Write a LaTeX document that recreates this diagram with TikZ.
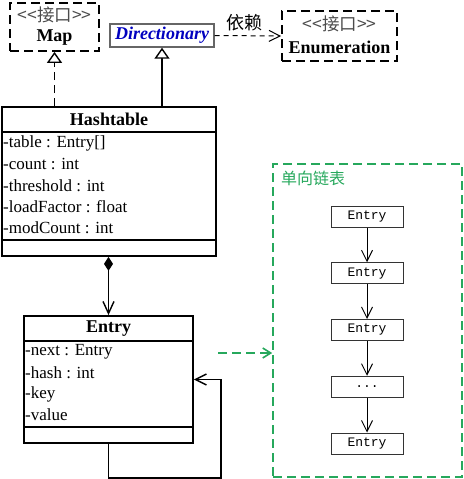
\documentclass[tikz,border=0pt]{standalone}
\usepackage{fontspec}
\setmainfont{Liberation Serif}
\setmonofont{Liberation Mono}
\newfontfamily\cjk{Noto Sans CJK SC}
\usetikzlibrary{arrows.meta,positioning}
\definecolor{gnx}{RGB}{38,168,92}
\colorlet{blx}{blue!75!black}
\colorlet{gax}{black!60}
\newcommand\chaindots{...}
\tikzset{
    klass/.style={draw,line width=1.8pt,inner sep=0pt},
    iface/.style={draw,line width=1.8pt,dash pattern=on 9pt off 5pt,inner sep=0pt},
    sep/.style={line width=1.8pt},
    attr/.style={anchor=west,inner sep=0pt,font=\fontsize{17}{17}\selectfont},
    ttl/.style={inner sep=0pt,font=\fontsize{18}{18}\selectfont\bfseries},
    stereo/.style={inner sep=0pt,text=black!70,font=\fontsize{17.5}{17.5}\selectfont\cjk},
    link/.style={draw=black!80,line width=1pt,minimum width=72pt,minimum height=21pt,inner sep=0pt,font=\fontsize{13}{13}\selectfont\ttfamily},
    inh/.style={line width=1.4pt,-{Triangle[open,length=11pt,width=15pt,fill=white]}},
    barb/.style={-{Straight Barb[length=11pt,width=11pt]}}
}

\begin{document}
\begin{tikzpicture}[x=1pt,y=-1pt]
    \useasboundingbox (0,0) rectangle (463,479);
    % interfaces and parent class
    \node [iface,minimum width=89pt,minimum height=48pt] (map) at (54.5,27) {};
    \node [stereo] (map-s) at (54.5,15) {<<接口>>};
    \node [ttl] (map-t) at (54.5,38) {Map};
    \node [draw=gax,line width=1.4pt,minimum width=104pt,minimum height=23pt,inner sep=0pt,
        text=blx,font=\fontsize{18}{18}\selectfont\bfseries\itshape] (dir) at (162,35.5) {Directionary};
    \node [iface,minimum width=115pt,minimum height=50pt] (enum) at (339.5,36) {};
    \node [stereo] (enum-s) at (339.5,24) {<<接口>>};
    \node [ttl] (enum-t) at (339.5,47) {Enumeration};
    \draw [barb,line width=1pt,dash pattern=on 5pt off 4pt] (dir.east)
        -- node [above=4pt,inner sep=0pt,xshift=-3pt,font=\fontsize{18}{18}\selectfont\cjk] (dep) {依赖} (enum.west);
    % Hashtable
    \node [klass,minimum width=214pt,minimum height=149pt] (ht) at (109,181.5) {};
    \node [ttl] (ht-t) at (109,119.5) {Hashtable};
    \draw [sep] (ht.west |- 0,132) -- (ht.east |- 0,132);
    \draw [sep] (ht.west |- 0,240) -- (ht.east |- 0,240);
    \foreach \t [count=\i] in {-table : Entry[],-count : int,-threshold : int,-loadFactor : float,-modCount : int} {
        \node [attr] (ht-a\i) at (3,{122+21.2*\i}) {\t};
    }
    \draw [inh,dash pattern=on 8pt off 5pt] (ht.north -| map) -- (map.south);
    \draw [inh] (ht.north -| dir) -- (dir.south);
    % Entry
    \node [klass,minimum width=169pt,minimum height=127pt] (entry) at (108.5,379.5) {};
    \node [ttl] (entry-t) at (108.5,328.5) {Entry};
    \draw [sep] (entry.west |- 0,341) -- (entry.east |- 0,341);
    \draw [sep] (entry.west |- 0,427) -- (entry.east |- 0,427);
    \foreach \t [count=\i] in {-next : Entry,-hash : int,-key,-value} {
        \node [attr] (entry-a\i) at (25,{331+21*\i}) {\t};
    }
    \draw [line width=1.4pt,{Diamond[length=14pt,width=9pt]}-{Straight Barb[length=12pt,width=11pt]}]
        (ht.south -| entry) -- (entry.north);
    \coordinate (loop) at (221,478);
    \draw [barb,line width=1.4pt] (entry.south) |- (loop) |- (entry.east);
    % linked list
    \node [draw=gnx,line width=1.6pt,dash pattern=on 9pt off 5pt,minimum width=189pt,minimum height=313pt] (chain) at (367.5,320.5) {};
    \node [anchor=west,inner sep=0pt,text=gnx,font=\fontsize{16}{16}\selectfont\cjk] (chain-l) at (281,178) {单向链表};
    \coordinate (gs) at (218,353);
    \draw [gnx,line width=1.6pt,dash pattern=on 9pt off 5pt,-{Straight Barb[length=8pt,width=10pt]}] (gs) -- (gs -| chain.west);
    \foreach \t [count=\i] in {Entry,Entry,Entry,\chaindots,Entry} {
        \node [link] (e\i) at (367,{159.75+56.75*\i}) {\t};
    }
    \foreach \i [evaluate=\i as \j using int(\i+1)] in {1,...,4} {
        \draw [barb,line width=1pt] (e\i) -- (e\j);
    }
\end{tikzpicture}
\end{document}
